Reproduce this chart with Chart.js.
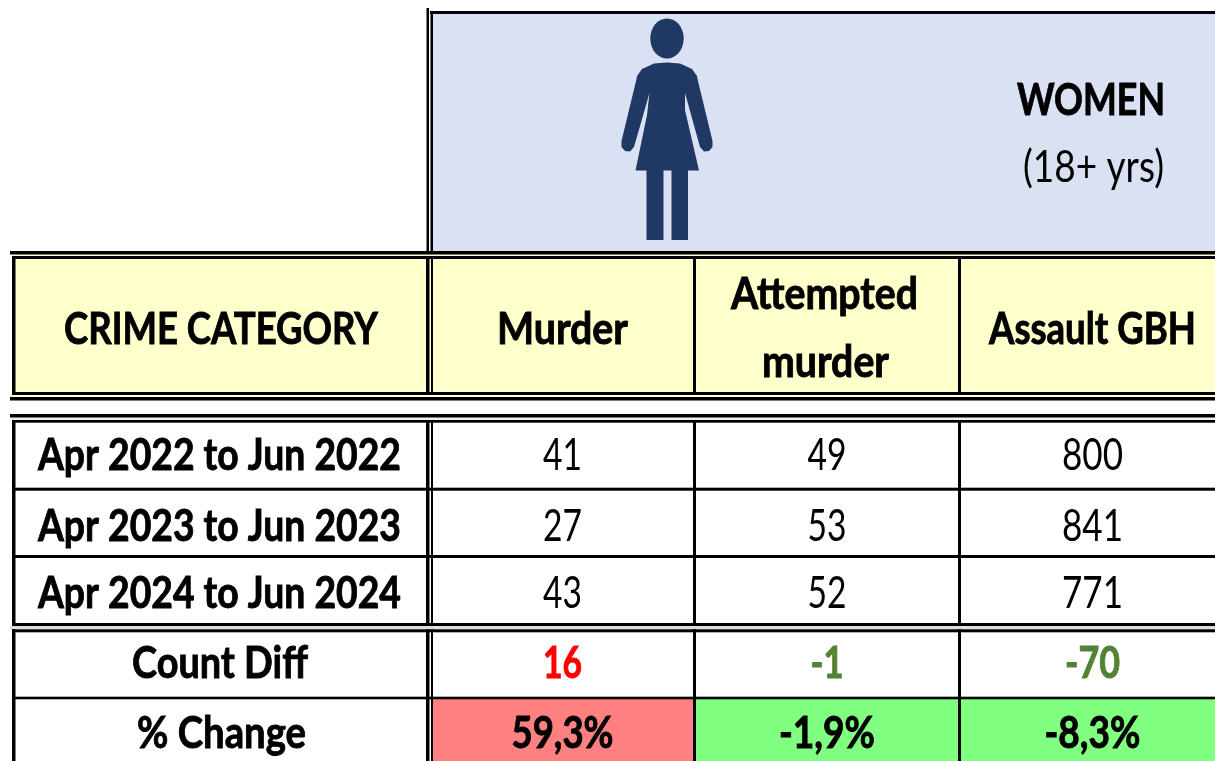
<!DOCTYPE html>
<html>
<head>
<meta charset="utf-8">
<script src="https://cdn.jsdelivr.net/npm/chart.js@4"></script>
<style>
  body { margin: 0; background: #fff; overflow: hidden; }
  canvas { display: block; }
</style>
</head>
<body>
<canvas id="crime-table" width="1215" height="761"></canvas>
<script>
// Table content
const groupTitle = 'WOMEN';
const groupSubtitle = '(18+ yrs)';
const cornerLabel = 'CRIME CATEGORY';
const categories = ['Murder', 'Attempted murder', 'Assault GBH'];
const periods = ['Apr 2022 to Jun 2022', 'Apr 2023 to Jun 2023', 'Apr 2024 to Jun 2024'];
const murderCounts = [41, 27, 43];
const attemptedCounts = [49, 53, 52];
const assaultCounts = [800, 841, 771];
const countDiff = [16, -1, -70];
const pctChange = ['59,3%', '-1,9%', '-8,3%'];
const summaryLabels = ['Count Diff', '% Change'];

// Layout, in page units (the x and y scales run 0-1215 and 0-761)
const colCentres = [562.5, 827, 1092.5];
const labelCentre = 219.5;
const countBaselines = [470, 541, 608];
const diffBaseline = 678;
const pctBaseline = 748;

const BLUE = '#D9E1F2', YELLOW = '#FFFFCC', NAVY = '#203864';
const RED_FILL = '#FF8080', GREEN_FILL = '#80FF80';
const RED_TEXT = '#FF0000', GREEN_TEXT = '#548235';

const fills = [
    [433, 14, 1215, 251, BLUE],
    [12, 254, 1215, 397, YELLOW],
    [433, 699, 693, 761, RED_FILL],
    [696, 699, 958, 761, GREEN_FILL],
    [961, 699, 1215, 761, GREEN_FILL],
    [10, 626, 1215, 629.5, '#DDDDDD'],
    [12, 417.5, 1215, 420, '#EEEEEE']
];

// black rules: x0, y0, x1, y1
const rules = [
    [430, 11, 1215, 14],
    [10, 251, 1215, 254.5],
    [12, 256, 1215, 259],
    [12, 392, 1215, 395],
    [10, 397, 1215, 400.5],
    [10, 414, 1215, 417.5],
    [12, 420, 1215, 422.7],
    [12, 487.7, 1215, 490.7],
    [12, 555, 1215, 558],
    [12, 623, 1215, 626],
    [12, 629.3, 1215, 632.3],
    [12, 696.7, 1215, 699.3],
    [426.5, 8, 429, 251],
    [430.5, 11, 433, 251],
    [12, 256, 15.5, 395],
    [12, 420, 15.5, 626],
    [12, 629.3, 15.5, 761],
    [426, 256, 429.5, 395],
    [431, 256, 433, 395],
    [426, 420, 429.5, 626],
    [431, 420, 433, 626],
    [426, 629.3, 429.5, 761],
    [431, 629.3, 433, 761],
    [693, 256, 696, 395],
    [958, 256, 961, 395],
    [693, 420, 696, 626],
    [958, 420, 961, 626],
    [693, 629.3, 696, 761],
    [958, 629.3, 961, 761]
];

// drawn width of each kind of text, the font is squeezed to fit it
const PERIOD_W = 363, PAIR_W = 39, TRIPLE_W = 61;
const textWidths = {
    'WOMEN': 148, '(18+ yrs)': 141, 'CRIME CATEGORY': 314,
    'Murder': 131, 'Attempted': 187, 'murder': 127, 'Assault GBH': 207,
    'Count Diff': 176, '% Change': 169,
    '16': 39, '-1': 33, '-70': 55, '59,3%': 102, '-1,9%': 96, '-8,3%': 96
};

// pictogram outline
const figureHead = [667, 38.5, 16.7, 20];
const figureBody = [
    [667, 62.5], [680, 63.5], [692, 69], [697, 76], [697.5, 79],
    [712.5, 141], [712.5, 147], [709, 151], [704, 151.5], [700, 147],
    [685, 93], [685, 110], [699, 170.5], [676, 170.5], [688, 170.5],
    [688, 240], [671.5, 240], [671.5, 170.5], [663.5, 170.5], [663.5, 240],
    [646.5, 240], [646.5, 170.5], [635.5, 170.5], [647, 115], [649.5, 93],
    [634, 147], [630, 151.5], [625, 151], [621.5, 147], [621.5, 141],
    [636.5, 79], [637, 76], [642, 69], [654, 63.5]
];

function countPoints(values, col) {
    return values.map((v, i) => ({ x: colCentres[col], y: countBaselines[i], label: String(v) }));
}

function summaryPoints(col) {
    return [
        { x: colCentres[col], y: diffBaseline, label: String(countDiff[col]),
          bold: true, color: countDiff[col] > 0 ? RED_TEXT : GREEN_TEXT },
        { x: colCentres[col], y: pctBaseline, label: pctChange[col], bold: true, color: '#000' }
    ];
}

const datasets = [murderCounts, attemptedCounts, assaultCounts].map((vals, col) => ({
    label: categories[col],
    data: countPoints(vals, col).concat(summaryPoints(col)),
    pointRadius: 0
}));

function drawLabel(ctx, text, x, y, bold, color) {
    ctx.save();
    ctx.font = (bold ? 'bold ' : '') + '44px Lato';
    ctx.fillStyle = color || '#000';
    ctx.strokeStyle = ctx.fillStyle;
    ctx.lineWidth = 0.9;
    ctx.textAlign = 'center';
    ctx.textBaseline = 'alphabetic';
    let target = textWidths[text];
    if (!target) target = text.startsWith('Apr') ? PERIOD_W : (text.length == 3 ? TRIPLE_W : PAIR_W);
    ctx.translate(x, y);
    ctx.scale(target / ctx.measureText(text).width, 1);
    ctx.fillText(text, 0, 0);
    if (bold) ctx.strokeText(text, 0, 0);
    ctx.restore();
}

const tablePlugin = {
    id: 'tablePlugin',
    beforeDatasetsDraw(chart) {
        const { ctx, scales: { x, y } } = chart;
        const box = (r) => [x.getPixelForValue(r[0]), y.getPixelForValue(r[1]),
            x.getPixelForValue(r[2]) - x.getPixelForValue(r[0]),
            y.getPixelForValue(r[3]) - y.getPixelForValue(r[1])];

        fills.forEach(f => { ctx.fillStyle = f[4]; ctx.fillRect(...box(f)); });
        ctx.fillStyle = '#000';
        rules.forEach(r => ctx.fillRect(...box(r)));

        // woman pictogram
        ctx.fillStyle = NAVY;
        ctx.beginPath();
        ctx.ellipse(x.getPixelForValue(figureHead[0]), y.getPixelForValue(figureHead[1]),
            figureHead[2], figureHead[3], 0, 0, Math.PI * 2);
        ctx.fill();
        ctx.beginPath();
        figureBody.forEach((p, i) => {
            const px = x.getPixelForValue(p[0]), py = y.getPixelForValue(p[1]);
            if (i == 0) ctx.moveTo(px, py); else ctx.lineTo(px, py);
        });
        ctx.closePath();
        ctx.fill();
    },
    afterDatasetsDraw(chart) {
        const { ctx, scales: { x, y } } = chart;
        const put = (text, vx, vy, bold) => drawLabel(ctx, text, x.getPixelForValue(vx),
            y.getPixelForValue(vy), bold, '#000');

        put(groupTitle, 1091, 115, true);
        put(groupSubtitle, 1093.5, 182, false);
        put(cornerLabel, 221, 344, true);
        periods.forEach((p, i) => put(p, labelCentre, countBaselines[i], true));
        put(summaryLabels[0], 220, diffBaseline, true);
        put(summaryLabels[1], 221.5, pctBaseline, true);

        put(categories[0], colCentres[0], 344, true);
        const attempted = categories[1].split(' ');
        put(attempted[0], 824.5, 309, true);
        put(attempted[1], 825.5, 377, true);
        put(categories[2], colCentres[2], 344, true);

        // cell values sit on the dataset points
        chart.data.datasets.forEach((ds, d) => {
            chart.getDatasetMeta(d).data.forEach((pt, i) => {
                const raw = ds.data[i];
                drawLabel(ctx, raw.label, pt.x, pt.y, raw.bold, raw.color);
            });
        });
    }
};

const ctx = document.getElementById('crime-table').getContext('2d');
const crimeTable = new Chart(ctx, {
    type: 'scatter',
    data: { datasets: datasets },
    options: {
        responsive: false,
        animation: false,
        devicePixelRatio: 1,
        layout: { padding: 0 },
        plugins: { legend: { display: false }, tooltip: { enabled: false } },
        scales: {
            x: { type: 'linear', min: 0, max: 1215, display: false },
            y: { type: 'linear', min: 0, max: 761, reverse: true, display: false }
        }
    },
    plugins: [tablePlugin]
});
</script>
</body>
</html>
